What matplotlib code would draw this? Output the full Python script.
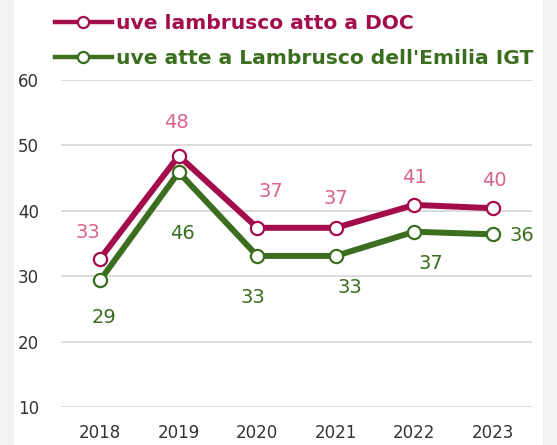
"""Lambrusco: uve atte a DOC vs IGT, 2018-2023."""

import matplotlib

matplotlib.use("Agg")
import matplotlib.pyplot as plt
from matplotlib.patches import Rectangle

years = ["2018", "2019", "2020", "2021", "2022", "2023"]
doc_values = [32.7, 48.4, 37.4, 37.4, 40.9, 40.4]
igt_values = [29.4, 45.9, 33.1, 33.1, 36.8, 36.4]
doc_label = "uve lambrusco atto a DOC"
igt_label = "uve atte a Lambrusco dell'Emilia IGT"
y_ticks = [10, 20, 30, 40, 50, 60]

# label offsets (points) per point
doc_offsets = [(-9, 19), (-2, 24), (10, 26), (0, 21), (0, 20), (1, 20)]
igt_offsets = [(3, -27), (3, -44), (-3, -30), (10, -23), (12, -23), (21, -1)]

DOC_COLOR = "#a30d4b"
DOC_TEXT = "#d9648f"
IGT_COLOR = "#3b6e1e"
IGT_TEXT = "#3b6e1e"

plt.rcParams["font.family"] = ["DejaVu Sans"]

fig = plt.figure(figsize=(5.57, 4.45), dpi=100, facecolor="#f2f2f2")
fig.patches.append(
    Rectangle((14 / 557, 0), (543 - 14) / 557, 1, transform=fig.transFigure,
              facecolor="white", edgecolor="none", zorder=-10)
)
ax = fig.add_axes([61 / 557, 1 - 407 / 445, (532 - 61) / 557, (407 - 80) / 445])
ax.set_facecolor("none")

x = list(range(len(years)))
line_kw = dict(linewidth=4.3, marker="o", markersize=9.5, markerfacecolor="white",
               markeredgewidth=1.6, solid_joinstyle="miter", clip_on=False)
(h_doc,) = ax.plot(x, doc_values, color=DOC_COLOR, label=doc_label, zorder=4, **line_kw)
(h_igt,) = ax.plot(x, igt_values, color=IGT_COLOR, label=igt_label, zorder=3, **line_kw)

for xi, v, off in zip(x, doc_values, doc_offsets):
    ax.annotate(f"{v:.0f}", (xi, v), xytext=off, textcoords="offset points",
                ha="center", va="center", fontsize=14, color=DOC_TEXT)
for xi, v, off in zip(x, igt_values, igt_offsets):
    ax.annotate(f"{v:.0f}", (xi, v), xytext=off, textcoords="offset points",
                ha="center", va="center", fontsize=14, color=IGT_TEXT)

ax.set_xlim(-0.5, len(years) - 0.5)
ax.set_ylim(10, 60)
ax.set_yticks(y_ticks)
ax.set_xticks(x)
ax.set_xticklabels(years)
ax.grid(True, axis="y", color="#d9d9d9", linewidth=1.3)
ax.set_axisbelow(True)
for spine in ax.spines.values():
    spine.set_visible(False)
ax.tick_params(length=0, labelsize=12, labelcolor="#333333")
ax.tick_params(axis="y", pad=16)
ax.tick_params(axis="x", pad=12)

leg = ax.legend(handles=[h_doc, h_igt], loc="lower left",
                bbox_to_anchor=(55 / 557, 1 - 68 / 445), bbox_transform=fig.transFigure,
                frameon=False, fontsize=14.6, handlelength=2.8, handletextpad=0.2,
                labelspacing=0.8, borderpad=0, borderaxespad=0)
for text, col in zip(leg.get_texts(), [DOC_COLOR, IGT_COLOR]):
    text.set_color(col)
    text.set_fontweight("bold")
for handle in leg.legend_handles:
    handle.set_linewidth(3.2)
    handle.set_markersize(8)

fig.savefig("out.png", dpi=100, facecolor=fig.get_facecolor())
